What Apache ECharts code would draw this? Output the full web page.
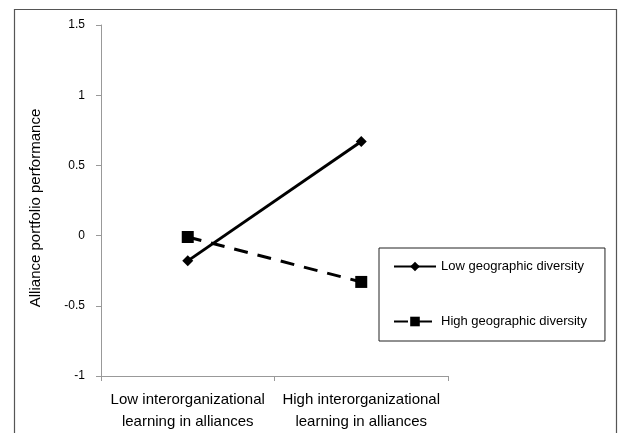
<!DOCTYPE html>
<html><head><meta charset="utf-8">
<script src="https://cdn.jsdelivr.net/npm/echarts@6/dist/echarts.min.js"></script>
<style>html,body{margin:0;padding:0;background:#fff}#c{width:622px;height:433px}</style>
</head><body><div id="c"></div>
<script>
const categories = ['Low interorganizational\nlearning in alliances', 'High interorganizational\nlearning in alliances'];
const lowDiversity = [-0.18, 0.67];
const highDiversity = [-0.01, -0.33];
const seriesNames = ['Low geographic diversity', 'High geographic diversity'];
const yTitle = 'Alliance portfolio performance';

const chart = echarts.init(document.getElementById('c'), null, {renderer: 'canvas'});
chart.setOption({
  animation: false,
  backgroundColor: '#fff',
  graphic: [{
    type: 'rect', silent: true,
    shape: {x: 14.5, y: 9.5, width: 602, height: 440},
    style: {fill: 'none', stroke: '#555', lineWidth: 1.2}
  }],
  grid: {left: 101, right: 174, top: 25, bottom: 55},
  legend: {
    orient: 'vertical',
    left: 379, top: 248,
    padding: [12, 18, 13, 14],
    itemGap: 42,
    itemWidth: 42, itemHeight: 12,
    borderColor: '#222', borderWidth: 1,
    textStyle: {fontFamily: 'Liberation Sans, Arial', fontSize: 13, color: '#000'},
    data: seriesNames
  },
  xAxis: {
    type: 'category',
    data: categories,
    boundaryGap: true,
    axisLine: {onZero: false, lineStyle: {color: '#999', width: 1}},
    axisTick: {show: true, length: 5, inside: false, lineStyle: {color: '#999'}},
    axisLabel: {interval: 0, margin: 13, fontFamily: 'Liberation Sans, Arial', fontSize: 15, color: '#000', lineHeight: 22}
  },
  yAxis: {
    type: 'value',
    min: -1, max: 1.5, interval: 0.5,
    name: yTitle, nameLocation: 'middle', nameGap: 58, nameRotate: 90,
    nameTextStyle: {fontFamily: 'Liberation Sans, Arial', fontSize: 15, color: '#000', padding: [0, 15, 0, 0]},
    axisLine: {show: true, lineStyle: {color: '#999', width: 1}},
    axisTick: {show: true, length: 5, lineStyle: {color: '#999'}},
    splitLine: {show: false},
    axisLabel: {margin: 16, fontFamily: 'Liberation Sans, Arial', fontSize: 12, color: '#000'}
  },
  series: [
    {
      name: seriesNames[0], type: 'line', data: lowDiversity,
      symbol: 'diamond', symbolSize: 11,
      lineStyle: {color: '#000', width: 3, type: 'solid'},
      itemStyle: {color: '#000'}
    },
    {
      name: seriesNames[1], type: 'line', data: highDiversity,
      symbol: 'rect', symbolSize: 12,
      lineStyle: {color: '#000', width: 3, type: [14, 10]},
      itemStyle: {color: '#000'}
    }
  ]
});
</script></body></html>
